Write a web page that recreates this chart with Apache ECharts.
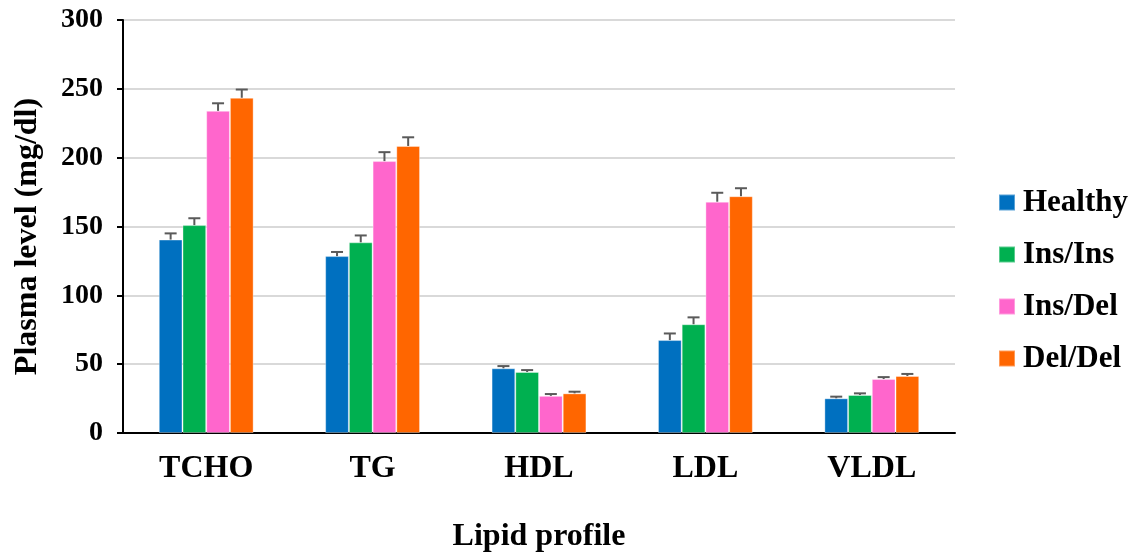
<!DOCTYPE html>
<html>
<head>
<meta charset="utf-8">
<script src="https://cdn.jsdelivr.net/npm/echarts@6/dist/echarts.min.js"></script>
<style>
  html, body { margin: 0; padding: 0; background: #fff; }
  #chart { width: 1133px; height: 554px; }
</style>
</head>
<body>
<div id="chart"></div>
<script>
// lipid profile data (mg/dl)
var categories = ['TCHO', 'TG', 'HDL', 'LDL', 'VLDL'];
var groupNames = ['Healthy', 'Ins/Ins', 'Ins/Del', 'Del/Del'];
var healthy    = [140.5, 128.5, 47.0, 67.5, 25.2];
var healthyErr = [4.5, 3.0, 1.6, 4.8, 1.2];
var insIns     = [151.0, 138.5, 44.3, 79.0, 27.6];
var insInsErr  = [5.0, 5.0, 1.4, 5.0, 1.2];
var insDel     = [234.0, 197.5, 27.0, 168.0, 39.2];
var insDelErr  = [5.5, 6.5, 1.3, 6.5, 1.4];
var delDel     = [243.5, 208.5, 28.8, 172.0, 41.4];
var delDelErr  = [6.0, 6.3, 1.2, 5.8, 1.5];
var yTicks = [0, 50, 100, 150, 200, 250, 300];

var colors = ['#0070C0', '#00B050', '#FF66CC', '#FF6600'];
var values = [healthy, insIns, insDel, delDel];
var errs = [healthyErr, insInsErr, insDelErr, delDelErr];
var catGap = 0.43;
var font = '"Liberation Serif", "Times New Roman", serif';

var myChart = echarts.init(document.getElementById('chart'));

var series = [];
for (var s = 0; s < values.length; s++) {
  series.push({
    name: groupNames[s],
    type: 'bar',
    data: values[s],
    barGap: '0%',
    barCategoryGap: (catGap * 100) + '%',
    itemStyle: { color: colors[s], borderColor: 'rgba(255,255,255,0.35)', borderWidth: 1 }
  });
}

// error bars (upper only)
var errData = [];
for (var s2 = 0; s2 < values.length; s2++) {
  for (var i = 0; i < categories.length; i++) {
    errData.push([i, s2, values[s2][i], errs[s2][i]]);
  }
}
series.push({
  type: 'custom',
  name: 'err',
  z: 5,
  encode: { x: 0, y: 2 },
  data: errData,
  renderItem: function (params, api) {
    var ci = api.value(0), si = api.value(1), v = api.value(2), e = api.value(3);
    var band = api.size([1, 0])[0];
    var bw = band * (1 - catGap) / 4;
    var base = api.coord([ci, v]);
    var top = api.coord([ci, v + e]);
    var x = base[0] + (si - 1.5) * bw;
    var st = { stroke: '#5a5a5a', lineWidth: 2 };
    return {
      type: 'group',
      children: [
        { type: 'line', shape: { x1: x, y1: base[1], x2: x, y2: top[1] }, style: st },
        { type: 'line', shape: { x1: x - 6, y1: top[1], x2: x + 6, y2: top[1] }, style: st }
      ]
    };
  }
});

myChart.setOption({
  animation: false,
  grid: { left: 123, right: 178, top: 20, bottom: 121, containLabel: false, outerBoundsMode: 'none' },
  legend: {
    data: groupNames,
    orient: 'vertical',
    left: 998,
    top: 187,
    padding: 0,
    itemWidth: 16,
    itemHeight: 16,
    itemGap: 21,
    icon: 'rect',
    textStyle: { fontFamily: font, fontWeight: 'bold', fontSize: 31, color: '#000', padding: [0, 0, 0, 3] }
  },
  xAxis: {
    type: 'category',
    data: categories,
    name: 'Lipid profile',
    nameLocation: 'middle',
    nameGap: 88,
    nameTextStyle: { fontFamily: font, fontWeight: 'bold', fontSize: 32, color: '#000' },
    axisLine: { lineStyle: { color: '#000', width: 2 } },
    axisTick: { show: false },
    axisLabel: { fontFamily: font, fontWeight: 'bold', fontSize: 32, color: '#000', margin: 20 }
  },
  yAxis: {
    type: 'value',
    min: yTicks[0],
    max: yTicks[yTicks.length - 1],
    interval: 50,
    name: 'Plasma level (mg/dl)',
    nameLocation: 'middle',
    nameGap: 79,
    nameTextStyle: { fontFamily: font, fontWeight: 'bold', fontSize: 32, color: '#000', padding: [0, 20, 0, 0] },
    axisLine: { show: true, lineStyle: { color: '#000', width: 2 } },
    axisTick: { show: true, length: 6, lineStyle: { color: '#000', width: 2 } },
    axisLabel: { fontFamily: font, fontWeight: 'bold', fontSize: 28, color: '#000', margin: 20 },
    splitLine: { lineStyle: { color: '#d9d9d9', width: 2 } }
  },
  series: series
});
</script>
</body>
</html>
